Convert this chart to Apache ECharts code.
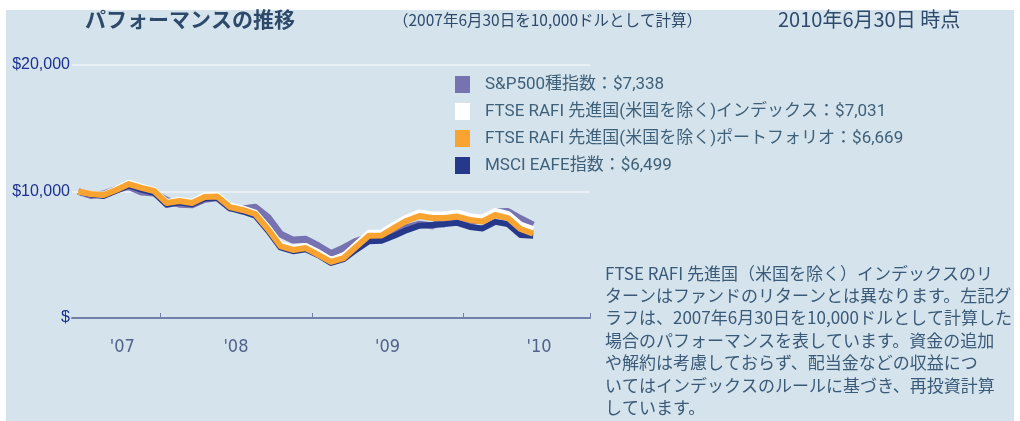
<!DOCTYPE html>
<html>
<head>
<meta charset="utf-8">
<script src="https://cdn.jsdelivr.net/npm/echarts@6.0.0/dist/echarts.min.js"></script>
<style>
    body { margin: 0; background: #ffffff; }
    #panel { position: absolute; left: 6px; top: 10px; width: 1008px; height: 411px; background: #d5e3ec; }
    #chart { position: absolute; left: 0; top: 0; width: 1020px; height: 421px; }
</style>
</head>
<body>
<div id="panel"></div>
<div id="chart"></div>
<script>
// 月次 (2007/6 〜 2010/10, 右端は空白)
var months = [];
for (var y = 2007; y <= 2010; y++) {
    for (var m = 1; m <= 12; m++) {
        if ((y === 2007 && m < 6) || (y === 2010 && m > 10)) continue;
        months.push(y + '-' + (m < 10 ? '0' + m : m));
    }
}
var yearLabels = ["'07", "'08", "'09", "'10"];

var seriesNames = [
    'S&P500種指数',
    'FTSE RAFI 先進国(米国を除く)インデックス',
    'FTSE RAFI 先進国(米国を除く)ポートフォリオ',
    'MSCI EAFE指数'
];

var sp500 = [10000, 9690, 9800, 10150, 10400, 9950, 9880, 9300, 9000, 8950, 9380, 9500,
    8700, 8620, 8750, 7970, 6630, 6160, 6220, 5700, 5090, 5540, 6070, 6400,
    6420, 6900, 7150, 7420, 7280, 7720, 7870, 7590, 7820, 8380, 8420, 7850, 7338];
var rafiIndex = [10000, 9830, 9770, 10200, 10700, 10380, 10100, 9170, 9340, 9190, 9680, 9720,
    8890, 8660, 8340, 7180, 5850, 5540, 5700, 5200, 4600, 4930, 5830, 6730,
    6750, 7380, 7950, 8350, 8190, 8200, 8320, 8050, 7930, 8460, 8230, 7380, 7031];
var rafiPortfolio = [10000, 9800, 9720, 10120, 10590, 10280, 10040, 9090, 9250, 9090, 9560, 9600,
    8770, 8540, 8220, 7040, 5690, 5380, 5530, 4990, 4430, 4740, 5640, 6500,
    6520, 7120, 7690, 8060, 7900, 7900, 8020, 7750, 7630, 8140, 7900, 7040, 6669];
var msciEafe = [10000, 9760, 9650, 10060, 10480, 10150, 9900, 8950, 9120, 8990, 9450, 9500,
    8680, 8420, 8100, 6920, 5580, 5280, 5440, 4960, 4350, 4650, 5400, 6060,
    6100, 6500, 6950, 7300, 7350, 7420, 7520, 7200, 7080, 7600, 7430, 6560, 6499];

var colors = ['#7772b0', '#ffffff', '#f9a431', '#26388a'];

var noteText = 'FTSE RAFI 先進国（米国を除く）インデックスのリ\n' +
    'ターンはファンドのリターンとは異なります。左記グ\n' +
    'ラフは、2007年6月30日を10,000ドルとして計算した\n' +
    '場合のパフォーマンスを表しています。資金の追加\n' +
    'や解約は考慮しておらず、配当金などの収益につ\n' +
    'いてはインデックスのルールに基づき、再投資計算\n' +
    'しています。';

var labelAt = [3, 12, 24, 36];
var tickAt = [7, 19, 31];

var allData = [sp500, rafiIndex, rafiPortfolio, msciEafe];
var lastValue = {};
seriesNames.forEach(function (n, i) {
    var d = allData[i];
    lastValue[n] = d[d.length - 1];
});

function makeLine(i, width) {
    return {
        name: seriesNames[i],
        type: 'line',
        data: allData[i],
        symbol: 'none',
        smooth: false,
        itemStyle: { color: colors[i] },
        lineStyle: { color: colors[i], width: width, join: 'round' }
    };
}

var myChart = echarts.init(document.getElementById('chart'));
myChart.setOption({
    animation: false,
    color: colors,
    grid: { left: 72, top: 65, width: 518, height: 253 },
    legend: {
        orient: 'vertical',
        left: 455,
        top: 76,
        padding: 0,
        icon: 'rect',
        itemWidth: 15,
        itemHeight: 17,
        itemGap: 10,
        data: seriesNames,
        formatter: function (name) {
            return name + '：$' + lastValue[name].toLocaleString('en-US');
        },
        textStyle: {
            color: '#3f6079',
            fontSize: 17,
            fontFamily: 'Roboto, "Noto Sans CJK JP", sans-serif',
            padding: [0, 0, 0, 10]
        }
    },
    xAxis: {
        type: 'category',
        data: months,
        boundaryGap: true,
        axisLine: { lineStyle: { color: '#7080aa', width: 2 } },
        axisTick: {
            show: true,
            inside: true,
            length: 5,
            interval: function (index) { return tickAt.indexOf(index) >= 0; },
            lineStyle: { color: '#7080aa', width: 1 }
        },
        axisLabel: {
            interval: function (index) { return labelAt.indexOf(index) >= 0; },
            formatter: function (v, index) {
                var k = labelAt.indexOf(index);
                return k >= 0 ? yearLabels[k] : '';
            },
            align: 'center',
            padding: [0, 0, 0, 12],
            margin: 20,
            color: '#53628a',
            fontSize: 18,
            fontFamily: '"Liberation Sans Narrow", "DejaVu Sans Condensed", sans-serif'
        },
        splitLine: { show: false }
    },
    yAxis: {
        type: 'value',
        min: 0,
        max: 20000,
        interval: 10000,
        axisLine: { show: false },
        axisTick: { show: false },
        axisLabel: {
            margin: 2,
            color: '#1c3190',
            fontSize: 16,
            fontFamily: '"Liberation Sans", Arial, sans-serif',
            formatter: function (v) {
                return v === 0 ? '$' : '$' + v.toLocaleString('en-US');
            }
        },
        splitLine: { lineStyle: { color: '#eef4f8', width: 1.5 } }
    },
    series: [
        makeLine(0, 7),
        makeLine(3, 6),
        makeLine(1, 6),
        makeLine(2, 6)
    ],
    graphic: [
        {
            type: 'text', left: 85, top: 9,
            style: {
                text: 'パフォーマンスの推移',
                fill: '#2e4a6b',
                font: 'bold 21px "Noto Sans CJK JP", sans-serif'
            }
        },
        {
            type: 'text', left: 393, top: 12,
            style: {
                text: '（2007年6月30日を10,000ドルとして計算）',
                fill: '#2e4a6b',
                font: '15.5px "Noto Sans CJK JP", sans-serif'
            }
        },
        {
            type: 'text', left: 778, top: 9,
            style: {
                text: '2010年6月30日 時点',
                fill: '#2e4a6b',
                font: '20px "Noto Sans CJK JP", sans-serif'
            }
        },
        {
            type: 'text', left: 605, top: 262,
            style: {
                text: noteText,
                fill: '#3a5a78',
                font: '17px "Noto Sans CJK JP", sans-serif',
                lineHeight: 22.4
            }
        }
    ]
});
</script>
</body>
</html>
